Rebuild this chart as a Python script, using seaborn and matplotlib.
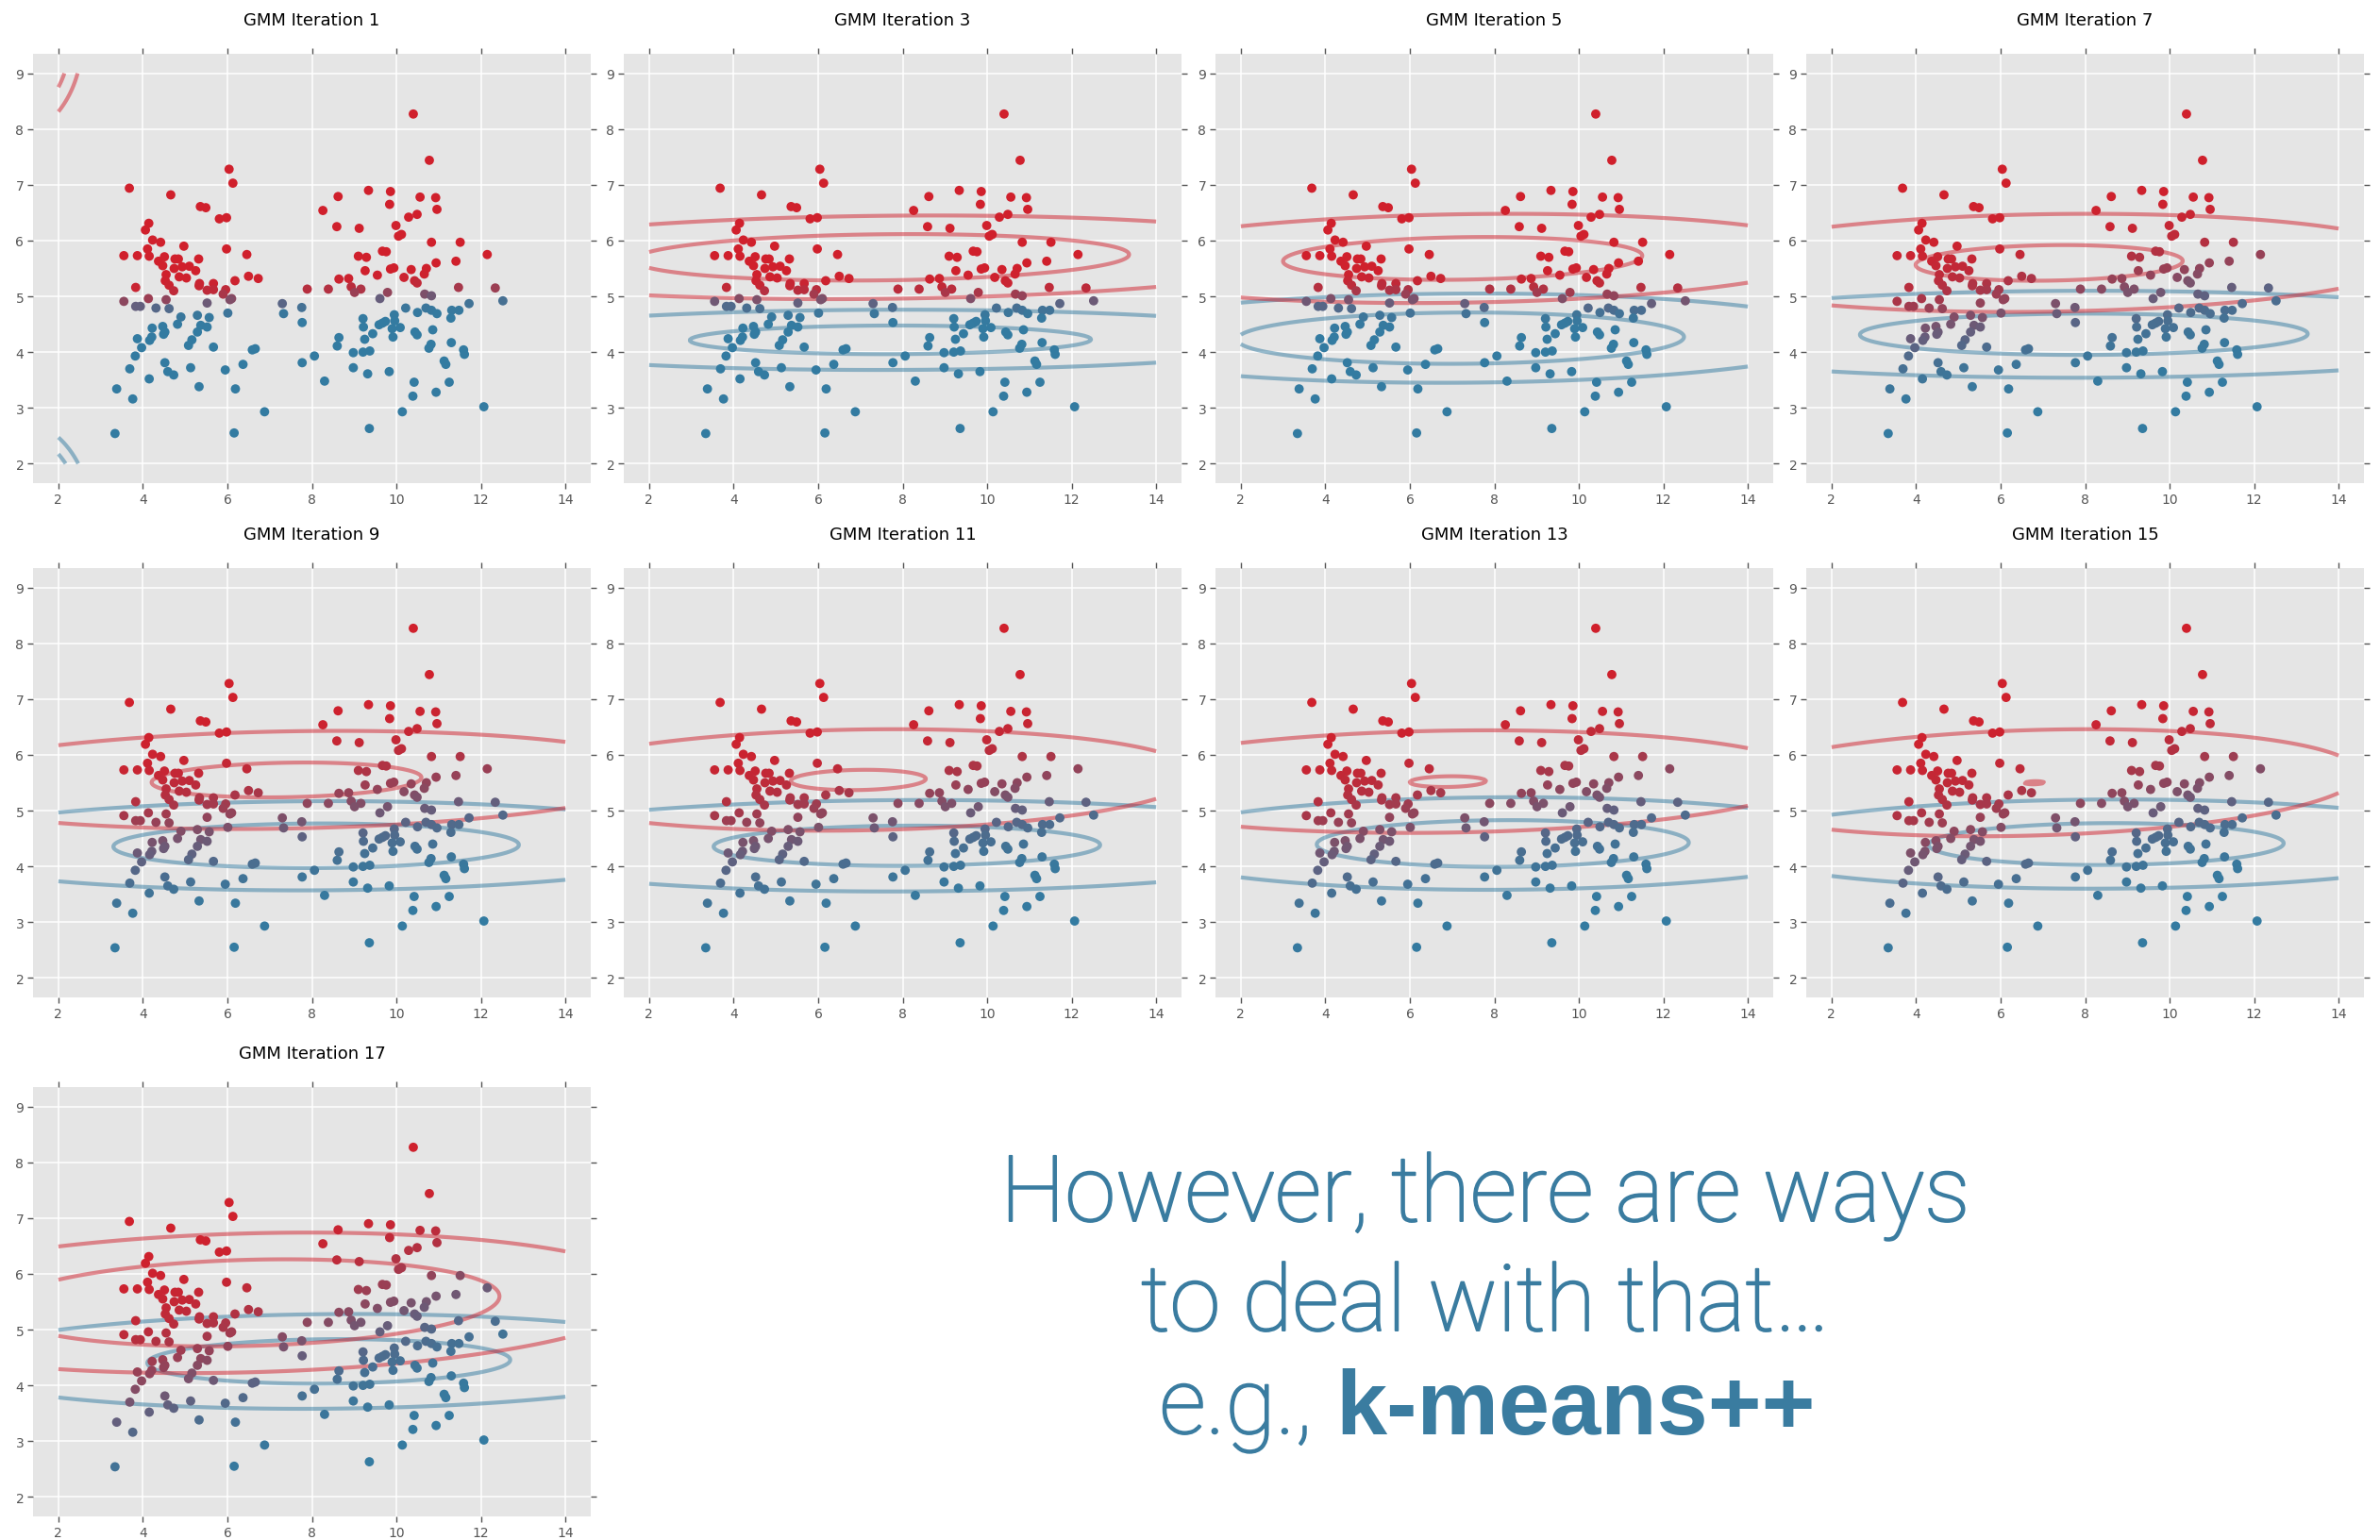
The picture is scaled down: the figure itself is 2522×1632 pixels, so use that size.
import numpy as np
import matplotlib
matplotlib.use("Agg")
import matplotlib.pyplot as plt
import matplotlib.patheffects as pe
import seaborn as sns
from matplotlib.colors import LinearSegmentedColormap

# ---------------- data points (same in every panel) ----------------
pts_x = [10.40, 10.78, 6.04, 6.13, 3.68, 4.66, 9.34, 9.86, 8.62, 10.56, 10.93, 9.84, 5.36, 5.49, 8.26,
         10.96, 10.49, 10.29, 5.81, 5.98, 4.14, 8.59, 9.12, 4.06, 9.99, 10.05, 10.12, 4.23, 4.42, 10.83,
         11.51, 4.97, 5.98, 4.11, 9.67, 9.76, 3.55, 3.87, 4.15, 6.46, 12.15, 4.51, 9.10, 9.29, 4.76,
         4.84, 5.32, 4.37, 11.41, 4.47, 10.94, 4.93, 5.10, 4.74, 5.25, 9.26, 9.86, 9.94, 10.35, 10.71,
         4.55, 10.66, 4.86, 5.03, 9.55, 6.50, 6.73, 4.53, 6.18, 8.64, 8.87, 10.18, 10.43, 10.49, 5.34,
         5.67, 5.33, 4.62, 8.93, 9.16, 3.83, 7.89, 8.39, 11.47, 12.34, 4.73, 5.52, 5.67, 5.96, 5.90,
         9.01, 9.79, 10.67, 10.83, 3.55, 4.13, 4.55, 6.10, 6.06, 5.52, 9.61, 7.30, 11.72, 12.52,
         3.83, 3.94, 4.31, 4.62, 7.76, 10.22, 10.70, 10.83, 11.31, 11.48, 6.01, 7.33, 10.50, 10.96, 9.95,
         5.29, 4.90, 5.57, 9.21, 11.29, 9.74, 9.96, 9.67, 9.59, 7.77, 4.82, 5.37, 5.52, 9.22, 4.47,
         10.09, 9.90, 4.22, 10.86, 5.29, 4.52, 10.44, 4.49, 10.49, 9.44, 3.87, 9.25, 8.64, 9.92, 4.21,
         4.16, 5.16, 5.08, 11.30, 8.60, 10.82, 10.77, 3.97, 5.67, 6.59, 6.66, 11.59, 11.61, 8.98, 9.21,
         9.37, 8.06, 3.82, 7.77, 4.52, 6.37, 11.13, 11.17, 3.69, 5.13, 5.95, 8.98, 9.83, 4.59, 4.73,
         9.32, 4.15, 8.30, 10.42, 11.25, 3.38, 6.19, 5.33, 10.94, 3.76, 10.39, 12.07, 6.88, 10.14, 9.36,
         3.34, 6.16]
pts_y = [8.27, 7.44, 7.28, 7.03, 6.94, 6.82, 6.90, 6.88, 6.79, 6.78, 6.77, 6.65, 6.61, 6.59, 6.54,
         6.56, 6.47, 6.42, 6.39, 6.41, 6.31, 6.25, 6.22, 6.19, 6.27, 6.08, 6.11, 6.01, 5.97, 5.97,
         5.97, 5.90, 5.85, 5.85, 5.81, 5.80, 5.73, 5.73, 5.72, 5.75, 5.75, 5.71, 5.72, 5.70, 5.67,
         5.67, 5.67, 5.63, 5.63, 5.55, 5.60, 5.53, 5.54, 5.50, 5.46, 5.46, 5.49, 5.51, 5.48, 5.50,
         5.39, 5.40, 5.35, 5.33, 5.38, 5.36, 5.32, 5.28, 5.28, 5.31, 5.32, 5.34, 5.28, 5.24, 5.23,
         5.23, 5.19, 5.20, 5.17, 5.13, 5.16, 5.13, 5.13, 5.16, 5.15, 5.10, 5.11, 5.12, 5.12, 5.04,
         5.07, 5.07, 5.04, 5.01, 4.91, 4.96, 4.94, 4.96, 4.94, 4.88, 4.96, 4.87, 4.87, 4.92,
         4.82, 4.82, 4.79, 4.78, 4.80, 4.79, 4.79, 4.75, 4.75, 4.75, 4.70, 4.69, 4.71, 4.69, 4.67,
         4.66, 4.63, 4.62, 4.60, 4.61, 4.55, 4.56, 4.52, 4.49, 4.53, 4.50, 4.48, 4.45, 4.45, 4.46,
         4.44, 4.42, 4.43, 4.40, 4.36, 4.36, 4.36, 4.32, 4.31, 4.33, 4.24, 4.23, 4.26, 4.27, 4.27,
         4.21, 4.22, 4.12, 4.17, 4.11, 4.14, 4.07, 4.08, 4.09, 4.04, 4.06, 4.04, 3.96, 3.99, 4.00,
         4.02, 3.93, 3.93, 3.81, 3.81, 3.78, 3.84, 3.78, 3.70, 3.72, 3.68, 3.72, 3.65, 3.65, 3.59,
         3.61, 3.52, 3.48, 3.46, 3.46, 3.34, 3.34, 3.38, 3.28, 3.16, 3.21, 3.02, 2.93, 2.93, 2.63,
         2.54, 2.55]

# ---------------- per-iteration mixture estimates ----------------
iterations = [1, 3, 5, 7, 9, 11, 13, 15, 17]
# contour ellipses (centre, spread, correlation, two contour radii)
red_mx   = [0.80, 7.50, 7.25, 7.15, 7.40, 6.95, 6.90, 6.80, 6.50]
red_my   = [9.60, 5.70, 5.68, 5.60, 5.55, 5.55, 5.52, 5.50, 5.48]
red_sx   = [0.88, 5.28, 4.43, 4.35, 4.50, 4.00, 4.30, 3.85, 4.79]
red_sy   = [0.88, 0.375, 0.40, 0.44, 0.44, 0.455, 0.46, 0.48, 0.63]
red_rho  = [0.00, 0.12, 0.13, 0.11, 0.14, 0.11, 0.11, 0.17, 0.15]
red_rin  = [1.67, 1.11, 0.96, 0.727, 0.71, 0.40, 0.21, 0.06, 1.24]
red_rout = [2.00, 2.00, 2.00, 2.00, 2.00, 2.00, 2.00, 2.00, 2.00]
blue_mx   = [1.00, 7.71, 7.20, 7.97, 8.10, 8.10, 8.20, 8.50, 8.40]
blue_my   = [1.00, 4.22, 4.25, 4.32, 4.37, 4.37, 4.41, 4.40, 4.43]
blue_sx   = [0.88, 5.00, 4.60, 5.58, 4.80, 5.20, 4.36, 4.47, 4.57]
blue_sy   = [0.88, 0.27, 0.40, 0.39, 0.40, 0.41, 0.415, 0.40, 0.425]
blue_rho  = [0.00, 0.03, 0.05, 0.02, 0.04, 0.04, 0.04, 0.04, 0.07]
blue_rin  = [1.75, 0.95, 1.15, 0.95, 1.00, 0.88, 1.01, 0.94, 0.94]
blue_rout = [2.02, 2.00, 2.00, 2.00, 2.00, 2.00, 2.00, 2.00, 2.00]
# shared spread used for the point memberships (colour of the dots)
resp_sx    = [0.88, 3.00, 3.00, 1.60, 1.60, 2.00, 2.10, 2.20, 2.00]
resp_sy    = [0.88, 0.37, 0.42, 0.71, 0.72, 0.73, 0.73, 0.74, 0.76]
red_weight = [0.995, 0.5, 0.5, 0.5, 0.5, 0.5, 0.5, 0.5, 0.55]

caption_lines = ["However, there are ways", "to deal with that\u2026"]
caption_prefix = "e.g.,"
caption_bold = "k-means++"

# ---------------- style ----------------
RED = "#D0202C"
BLUE = "#337BA1"
TXT = "#3A7CA0"
W, H = 2522, 1633

sns.set_theme(style="darkgrid", rc={
    "axes.facecolor": "#E5E5E5",
    "figure.facecolor": "white",
    "grid.color": "white",
    "grid.linewidth": 1.1,
    "axes.edgecolor": "#E5E5E5",
    "xtick.color": "#555555",
    "ytick.color": "#555555",
    "xtick.labelcolor": "#555555",
    "ytick.labelcolor": "#555555",
})
plt.rcParams["font.family"] = ["DejaVu Sans"]

cmap = LinearSegmentedColormap.from_list("br", [BLUE, RED])

fig = plt.figure(figsize=(W / 100, H / 100), dpi=100)

col_left = [35, 661, 1288, 1914]
row_bottom = [513, 1058, 1608]
ax_w, ax_h = 591, 455

gx = np.linspace(2, 14, 400)
gy = np.linspace(2, 9, 300)
GX, GY = np.meshgrid(gx, gy)
px = np.array(pts_x)
py = np.array(pts_y)


def gauss(x, y, mx, my, sx, sy, rho):
    dx = (x - mx) / sx
    dy = (y - my) / sy
    q = (dx * dx - 2 * rho * dx * dy + dy * dy) / (1 - rho ** 2)
    logn = -0.5 * q - np.log(2 * np.pi * sx * sy * np.sqrt(1 - rho ** 2))
    return logn, np.sqrt(q)


for k, it in enumerate(iterations):
    r, c = divmod(k, 4)
    ax = fig.add_axes([col_left[c] / W, 1 - row_bottom[r] / H, ax_w / W, ax_h / H])

    lr, _ = gauss(px, py, red_mx[k], red_my[k], resp_sx[k], resp_sy[k], 0.0)
    lb, _ = gauss(px, py, blue_mx[k], blue_my[k], resp_sx[k], resp_sy[k], 0.0)
    lr = lr + np.log(red_weight[k])
    lb = lb + np.log(1 - red_weight[k])
    resp = 1.0 / (1.0 + np.exp(np.clip(lb - lr, -50, 50)))

    _, DB = gauss(GX, GY, blue_mx[k], blue_my[k], blue_sx[k], blue_sy[k], blue_rho[k])
    _, DR = gauss(GX, GY, red_mx[k], red_my[k], red_sx[k], red_sy[k], red_rho[k])
    ax.contour(GX, GY, DB, levels=sorted([blue_rin[k], blue_rout[k]]), colors=[BLUE],
               linewidths=3.0, alpha=0.5, zorder=2)
    ax.contour(GX, GY, DR, levels=sorted([red_rin[k], red_rout[k]]), colors=[RED],
               linewidths=3.0, alpha=0.5, zorder=2)

    sns.scatterplot(x=px, y=py, hue=resp, palette=cmap, hue_norm=(0, 1), s=50,
                    linewidth=0, legend=False, ax=ax, zorder=3)

    ax.set_xlim(1.4, 14.6)
    ax.set_ylim(1.65, 9.35)
    ax.set_xticks(range(2, 15, 2))
    ax.set_yticks(range(2, 10))
    ax.tick_params(axis="both", which="both", direction="out", length=4, width=1,
                   labelsize=10, top=True, right=True, left=True, bottom=True,
                   labeltop=False, labelright=False, pad=3)
    ax.set_xlabel("")
    ax.set_ylabel("")
    for s in ax.spines.values():
        s.set_visible(False)
    ax.set_title(f"GMM Iteration {it}", fontsize=13, pad=22, color="black")

# ---------------- caption ----------------
light = dict(fontsize=70, color=TXT, family=["Roboto", "DejaVu Sans"], fontweight="light",
             path_effects=[pe.withStroke(linewidth=1.4, foreground=TXT)])
cx = 1574 / W
base_y = [1295, 1411, 1520]
for line, by in zip(caption_lines, base_y[:2]):
    fig.text(cx, 1 - by / H, line, ha="center", va="baseline", **light)

t1 = fig.text(0, 1 - base_y[2] / H, caption_prefix, ha="left", va="baseline", **light)
t2 = fig.text(0, 1 - base_y[2] / H, caption_bold, ha="left", va="baseline", fontsize=70,
              color=TXT, family=["Liberation Sans", "DejaVu Sans"], fontweight="bold")
fig.canvas.draw()
rend = fig.canvas.get_renderer()
w1 = t1.get_window_extent(rend).width
w2 = t2.get_window_extent(rend).width
gap = 24
start = 1576 - (w1 + gap + w2) / 2
t1.set_x(start / W)
t2.set_x((start + w1 + gap) / W)

fig.savefig("out.png", dpi=100)
